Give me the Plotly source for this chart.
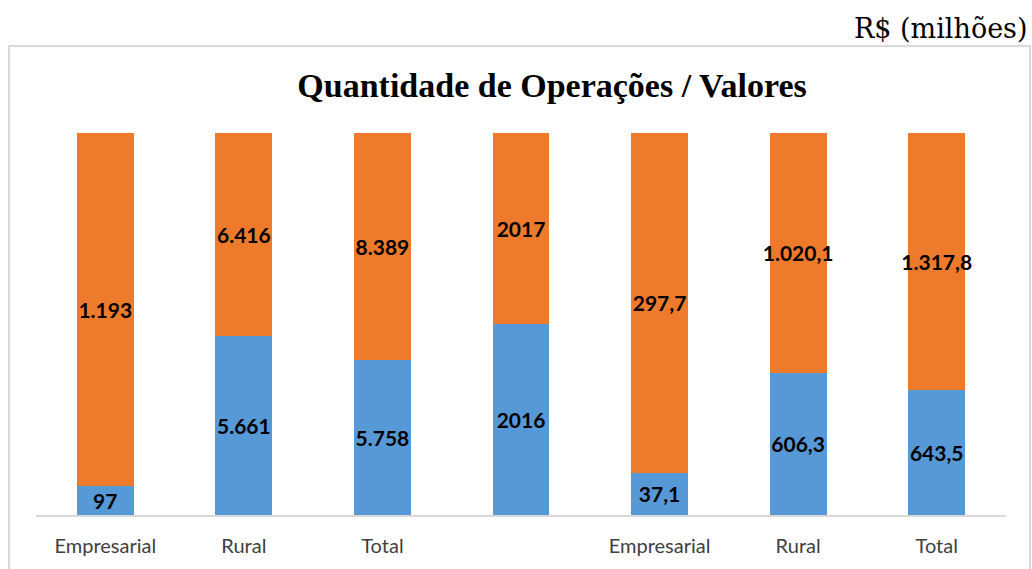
import plotly.graph_objects as go

categories = ["Empresarial", "Rural", "Total", " ", "Empresarial ", "Rural ", "Total "]
tick_labels = ["Empresarial", "Rural", "Total", "", "Empresarial", "Rural", "Total"]
values_2016 = [97, 5661, 5758, 2016, 37.1, 606.3, 643.5]
values_2017 = [1193, 6416, 8389, 2017, 297.7, 1020.1, 1317.8]
labels_2016 = ["97", "5.661", "5.758", "2016", "37,1", "606,3", "643,5"]
labels_2017 = ["1.193", "6.416", "8.389", "2017", "297,7", "1.020,1", "1.317,8"]

W, H = 1032, 569
L, R, T, B = 36, 26, 133, 50
pw, ph = W - L - R, H - T - B

bar_font = dict(family="Lato", size=21, color="black", weight="bold")

fig = go.Figure()
fig.add_trace(go.Bar(
    x=categories, y=values_2016, name="2016",
    marker=dict(color="#5799D6", line=dict(width=0)),
    text=labels_2016, textposition="inside", insidetextanchor="middle",
    textangle=0, constraintext="none", textfont=bar_font,
    cliponaxis=False,
))
fig.add_trace(go.Bar(
    x=categories, y=values_2017, name="2017",
    marker=dict(color="#EE7A2C", line=dict(width=0)),
    text=labels_2017, textposition="inside", insidetextanchor="middle",
    textangle=0, constraintext="none", textfont=bar_font,
    cliponaxis=False,
))

def px_x(x):
    return (x - L) / pw

def px_y(y):
    return (H - B - y) / ph

fig.update_layout(
    width=W, height=H,
    margin=dict(l=L, r=R, t=T, b=B),
    barmode="stack", barnorm="percent",
    bargap=0.59,
    showlegend=False,
    plot_bgcolor="white", paper_bgcolor="white",
    title=dict(
        text="<b>Quantidade de Operações / Valores</b>",
        font=dict(family="Liberation Serif", size=34, color="black"),
        x=px_x(552), xref="paper", xanchor="center",
        y=1 - 85 / H, yref="container", yanchor="middle",
    ),
    xaxis=dict(
        tickmode="array", tickvals=categories, ticktext=tick_labels,
        tickfont=dict(family="Lato", size=20, color="#404040"),
        showline=True, linecolor="#D9D9D9", linewidth=2,
        ticks="", showgrid=False, ticklabelstandoff=12,
    ),
    yaxis=dict(range=[0, 100], visible=False, showgrid=False),
    shapes=[dict(
        type="rect", xref="paper", yref="paper",
        x0=px_x(9), x1=px_x(1030), y0=px_y(600), y1=px_y(45),
        line=dict(color="#D9D9D9", width=2), layer="below",
    )],
    annotations=[dict(
        text="R$ (milhões)", xref="paper", yref="paper",
        x=px_x(1030), y=px_y(27), xanchor="right", yanchor="middle",
        showarrow=False,
        font=dict(family="DejaVu Serif", size=27, color="black"),
    )],
)

fig.write_html(
    "out.html",
    config={"displayModeBar": False},
    post_script="document.body.style.margin='0';document.body.style.overflow='hidden';",
)
